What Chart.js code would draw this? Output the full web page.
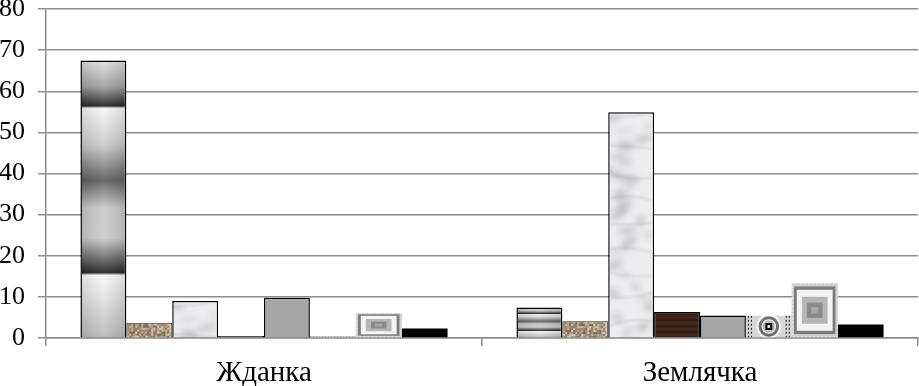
<!DOCTYPE html>
<html>
<head>
<meta charset="utf-8">
<script src="https://cdn.jsdelivr.net/npm/chart.js@4.4.1/dist/chart.umd.min.js"></script>
<style>
  html, body { margin: 0; padding: 0; background: #fff; }
  #wrap { width: 919px; height: 386px; position: relative; }
</style>
</head>
<body>
<div id="wrap"><canvas id="c"></canvas></div>
<script>
// ---- data ----
const categories = ['Жданка', 'Землячка'];
const series1 = [67.5, 7.4];
const series2 = [3.7, 4.1];
const series3 = [9.0, 54.9];
const series4 = [0.5, 6.3];
const series5 = [9.8, 5.5];
const series6 = [0.4, 5.4];
const series7 = [6.1, 13.3];
const series8 = [2.3, 3.3];
const yTicks = [0, 10, 20, 30, 40, 50, 60, 70, 80];

// ---- textures (drawn inside each bar rectangle given by Chart.js) ----
function hash(i, j) {
  let h = (i * 73856093) ^ (j * 19349663) ^ 0x5bd1e995;
  h = Math.imul(h ^ (h >>> 13), 0x5bd1e995);
  h ^= h >>> 15;
  return (h >>> 0);
}
const textures = {
  chrome(ctx, x, y, w, h) {
    const g = ctx.createLinearGradient(0, y, 0, y + h);
    g.addColorStop(0, '#dedede');
    g.addColorStop(0.09, '#a0a0a0');
    g.addColorStop(0.16, '#232323');
    g.addColorStop(0.168, '#f6f6f6');
    g.addColorStop(0.30, '#cbcbcb');
    g.addColorStop(0.43, '#5e5e5e');
    g.addColorStop(0.53, '#c9c9c9');
    g.addColorStop(0.64, '#cacaca');
    g.addColorStop(0.765, '#262626');
    g.addColorStop(0.775, '#f8f8f8');
    g.addColorStop(1, '#b9b9b9');
    ctx.fillStyle = g;
    ctx.fillRect(x, y, w, h);
    const s = ctx.createLinearGradient(x, 0, x + w, 0);
    s.addColorStop(0, 'rgba(0,0,0,0.10)');
    s.addColorStop(0.5, 'rgba(255,255,255,0.08)');
    s.addColorStop(1, 'rgba(0,0,0,0.12)');
    ctx.fillStyle = s;
    ctx.fillRect(x, y, w, h);
  },
  granite(ctx, x, y, w, h) {
    const pal = ['#7a664f', '#a8957e', '#cbbba5', '#8f7b65', '#b7a690', '#dccfbd', '#9c8872'];
    ctx.fillStyle = '#a8957e';
    ctx.fillRect(x, y, w, h);
    for (let i = 0; i < w; i += 2) {
      for (let j = 0; j < h; j += 2) {
        ctx.fillStyle = pal[hash(i, j) % pal.length];
        ctx.fillRect(x + i, y + j, 2, 2);
      }
    }
  },
  marble(ctx, x, y, w, h) {
    ctx.fillStyle = '#ededef';
    ctx.fillRect(x, y, w, h);
    ctx.save();
    ctx.filter = 'blur(3px)';
    for (let k = 0; k * 8 < h + 10; k++) {
      const hv = hash(k, 3);
      const cx = x + ((hv % 1000) / 1000) * w;
      const cy = y + k * 8 + ((hv >>> 10) % 6);
      const rx = 4 + ((hv >>> 14) % 9);
      const ry = 2 + ((hv >>> 18) % 4);
      const a = 0.22 + ((hv >>> 22) % 22) / 100;
      ctx.fillStyle = 'rgba(135,135,143,' + a + ')';
      ctx.beginPath();
      ctx.ellipse(cx, cy, rx, ry, ((hv >>> 5) % 10) / 10 - 0.5, 0, Math.PI * 2);
      ctx.fill();
    }
    ctx.restore();
    ctx.save();
    ctx.filter = 'blur(1px)';
    ctx.strokeStyle = 'rgba(140,140,150,0.4)';
    ctx.lineWidth = 1;
    for (let k = 0; k * 26 < h; k++) {
      const hv = hash(k, 11);
      const yy = y + k * 26 + (hv % 10);
      ctx.beginPath();
      ctx.moveTo(x, yy);
      ctx.quadraticCurveTo(x + w * 0.5, yy + ((hv >>> 8) % 16) - 8, x + w, yy + ((hv >>> 12) % 12) - 6);
      ctx.stroke();
    }
    ctx.restore();
  },
  wood(ctx, x, y, w, h) {
    ctx.fillStyle = '#3b2316';
    ctx.fillRect(x, y, w, h);
    ctx.lineWidth = 1;
    for (let j = 0; j < h; j += 3) {
      ctx.strokeStyle = (j / 3) % 2 ? '#4d301f' : '#2c190f';
      ctx.beginPath();
      ctx.moveTo(x, y + j + 0.5);
      ctx.lineTo(x + w, y + j + 0.5);
      ctx.stroke();
    }
  },
  target(ctx, x, y, w, h) {
    ctx.fillStyle = '#d6d6d6';
    ctx.fillRect(x, y, w, h);
    if (h < 6) {
      ctx.fillStyle = '#777';
      for (let i = 0; i < w; i += 3) ctx.fillRect(x + i, y, 1.5, h);
      return;
    }
    ctx.strokeStyle = '#111';
    ctx.lineWidth = 1;
    ctx.setLineDash([2, 2]);
    [2.5, 5.5, w - 2.5, w - 5.5].forEach(dx => {
      ctx.beginPath(); ctx.moveTo(x + dx, y); ctx.lineTo(x + dx, y + h); ctx.stroke();
    });
    ctx.setLineDash([]);
    const cx = x + w / 2, cy = y + h / 2, r = h * 0.48;
    ctx.fillStyle = '#f4f4f4';
    ctx.beginPath(); ctx.arc(cx, cy, r + 2, 0, Math.PI * 2); ctx.fill();
    ctx.strokeStyle = '#707070';
    ctx.lineWidth = 3;
    ctx.beginPath(); ctx.arc(cx, cy, r - 1.5, 0, Math.PI * 2); ctx.stroke();
    ctx.fillStyle = '#bdbdbd';
    ctx.beginPath(); ctx.arc(cx, cy, r * 0.6, 0, Math.PI * 2); ctx.fill();
    const s = h * 0.32;
    ctx.fillStyle = '#000';
    ctx.fillRect(cx - s / 2, cy - s / 2, s, s);
    const s2 = s * 0.4;
    ctx.fillStyle = '#fff';
    ctx.fillRect(cx - s2 / 2, cy - s2 / 2, s2, s2);
  },
  frame(ctx, x, y, w, h) {
    const fx = [0, 0.05, 0.11, 0.22, 0.33, 0.42];
    const fy = [0, 0.06, 0.12, 0.25, 0.36, 0.44];
    const col = ['#cdcdcd', '#7a7a7a', '#f4f4f4', '#b6b6b6', '#8a8a8a', '#a6a6a6'];
    for (let k = 0; k < col.length; k++) {
      const ix = fx[k] * w, iy = fy[k] * h;
      if (w - 2 * ix <= 0 || h - 2 * iy <= 0) break;
      ctx.fillStyle = col[k];
      ctx.fillRect(x + ix, y + iy, w - 2 * ix, h - 2 * iy);
    }
    ctx.strokeStyle = '#eeeeee';
    ctx.lineWidth = 1;
    ctx.setLineDash([2, 2]);
    ctx.strokeRect(x + 0.5, y + 0.5, w - 1, h - 1);
    ctx.setLineDash([]);
  }
};

const texturePlugin = {
  id: 'texturePlugin',
  afterDatasetsDraw(chart) {
    const ctx = chart.ctx;
    chart.data.datasets.forEach((ds, di) => {
      const fn = textures[ds.texture];
      if (!fn) return;
      const meta = chart.getDatasetMeta(di);
      if (meta.hidden) return;
      const bw = ds.borderWidth || 0;
      meta.data.forEach(el => {
        const p = el.getProps(['x', 'y', 'base', 'width'], true);
        const left = p.x - p.width / 2;
        const top = Math.min(p.y, p.base);
        const bottom = Math.max(p.y, p.base);
        const ix = left + bw, iy = top + bw;
        const iw = p.width - 2 * bw, ih = bottom - top - bw;
        if (iw <= 0 || ih <= 0) return;
        ctx.save();
        ctx.beginPath();
        ctx.rect(ix, iy, iw, ih);
        ctx.clip();
        fn(ctx, ix, iy, iw, ih);
        ctx.restore();
      });
    });
  }
};

const gridColor = '#8c8c8c';

new Chart(document.getElementById('c'), {
  type: 'bar',
  data: {
    labels: categories,
    datasets: [
      { data: series1, backgroundColor: '#cccccc', borderColor: '#000', borderWidth: 1.5, texture: 'chrome' },
      { data: series2, backgroundColor: '#a8957e', borderColor: '#333', borderWidth: 1, texture: 'granite' },
      { data: series3, backgroundColor: '#eeeef0', borderColor: '#000', borderWidth: 1.5, texture: 'marble' },
      { data: series4, backgroundColor: '#3b2316', borderColor: '#000', borderWidth: 1.5, texture: 'wood' },
      { data: series5, backgroundColor: '#a6a6a6', borderColor: '#000', borderWidth: 1.5 },
      { data: series6, backgroundColor: '#d6d6d6', borderWidth: 0, texture: 'target' },
      { data: series7, backgroundColor: '#cdcdcd', borderWidth: 0, texture: 'frame' },
      { data: series8, backgroundColor: '#000000', borderWidth: 0 }
    ]
  },
  options: {
    responsive: true,
    maintainAspectRatio: false,
    animation: false,
    devicePixelRatio: 1,
    layout: { padding: { top: 9, right: 1, left: 0, bottom: 0 } },
    plugins: { legend: { display: false }, tooltip: { enabled: false } },
    datasets: { bar: { categoryPercentage: 0.842, barPercentage: 1.0 } },
    scales: {
      x: {
        grid: { display: true, drawOnChartArea: false, drawTicks: true, offset: true, tickLength: 8, color: gridColor, lineWidth: 1.5 },
        border: { display: true, color: gridColor, width: 1.5 },
        ticks: { color: '#000', font: { family: 'Liberation Serif', size: 29 }, padding: 10 },
        afterFit(scale) { scale.height = 48; scale.paddingLeft = 0; scale.paddingRight = 0; }
      },
      y: {
        min: 0, max: 80,
        afterBuildTicks(scale) { scale.ticks = yTicks.map(v => ({ value: v })); },
        grid: { color: gridColor, lineWidth: 1.5, tickLength: 8, drawTicks: true },
        border: { display: true, color: gridColor, width: 1.5 },
        ticks: { color: '#000', font: { family: 'Liberation Serif', size: 26 }, padding: 13 },
        afterFit(scale) { scale.width = 46; scale.paddingTop = 0; scale.paddingBottom = 0; }
      }
    }
  },
  plugins: [texturePlugin]
});
</script>
</body>
</html>
